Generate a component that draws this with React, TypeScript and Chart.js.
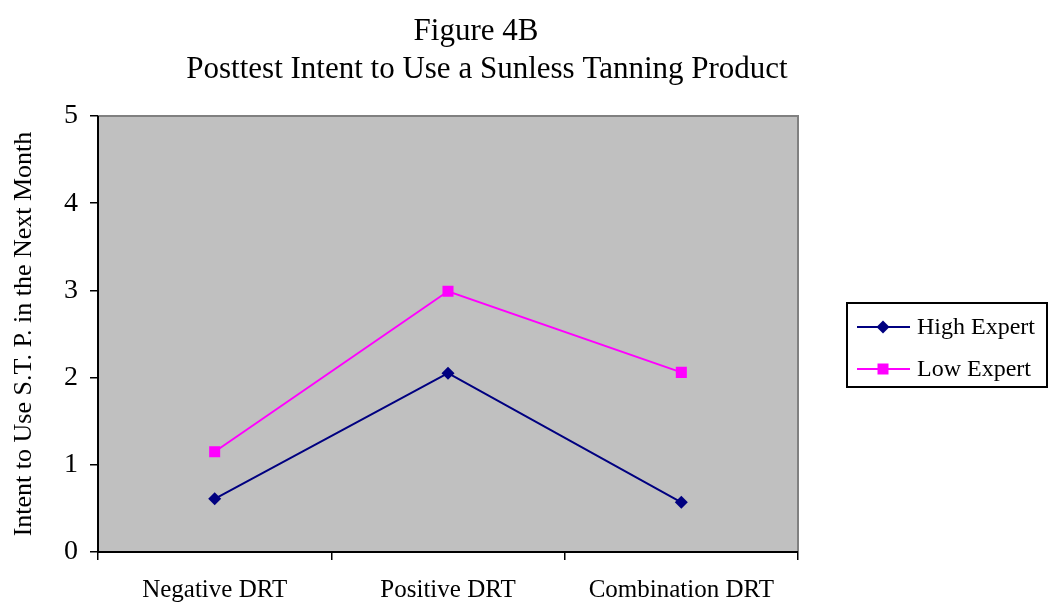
import React, { useEffect, useRef } from "react";
import { Chart, registerables } from "chart.js";

Chart.register(...registerables);

const categories = ["Negative DRT", "Positive DRT", "Combination DRT"];
const highExpert = [0.61, 2.05, 0.57];
const lowExpert = [1.15, 2.99, 2.06];
const seriesNames = ["High Expert", "Low Expert"];
const titleLines = ["Figure 4B", "Posttest Intent to Use a Sunless Tanning Product"];
const yAxisTitle = "Intent to Use S.T. P. in the Next Month";

const FONT = "'Liberation Serif', 'Times New Roman', serif";
const NAVY = "#000080";
const MAGENTA = "#FF00FF";

export default function App() {
  const ref = useRef<HTMLCanvasElement>(null);

  useEffect(() => {
    const canvas = ref.current!;
    const decor = {
      id: "decor",
      beforeDatasetsDraw(chart: any) {
        const { ctx, chartArea: a } = chart;
        ctx.save();
        ctx.fillStyle = "#C0C0C0";
        ctx.fillRect(a.left, a.top, a.right - a.left, a.bottom - a.top);
        ctx.strokeStyle = "#808080";
        ctx.lineWidth = 2;
        ctx.beginPath();
        ctx.moveTo(a.left, a.top);
        ctx.lineTo(a.right, a.top);
        ctx.lineTo(a.right, a.bottom);
        ctx.stroke();
        ctx.strokeStyle = "#000";
        ctx.lineWidth = 2;
        ctx.beginPath();
        ctx.moveTo(a.left, a.top);
        ctx.lineTo(a.left, a.bottom);
        ctx.lineTo(a.right, a.bottom);
        ctx.stroke();
        ctx.restore();
      },
      afterDraw(chart: any) {
        const { ctx } = chart;
        ctx.save();
        // title
        ctx.fillStyle = "#000";
        ctx.textAlign = "center";
        ctx.textBaseline = "middle";
        ctx.font = `31px ${FONT}`;
        ctx.fillText(titleLines[0], 476, 32);
        ctx.fillText(titleLines[1], 487, 70);
        // legend
        const bx = 847, by = 303, bw = 200, bh = 84;
        ctx.fillStyle = "#fff";
        ctx.fillRect(bx, by, bw, bh);
        ctx.strokeStyle = "#000";
        ctx.lineWidth = 2;
        ctx.strokeRect(bx, by, bw, bh);
        const rows = [
          { y: 327, color: NAVY, style: "rectRot" },
          { y: 369, color: MAGENTA, style: "rect" },
        ];
        ctx.font = `24px ${FONT}`;
        ctx.textAlign = "left";
        rows.forEach((row, i) => {
          ctx.strokeStyle = row.color;
          ctx.lineWidth = 2;
          ctx.beginPath();
          ctx.moveTo(857, row.y);
          ctx.lineTo(910, row.y);
          ctx.stroke();
          ctx.fillStyle = row.color;
          ctx.beginPath();
          if (row.style === "rect") {
            const s = 5.5;
            ctx.rect(883 - s, row.y - s, 2 * s, 2 * s);
          } else {
            const s = 6.5;
            ctx.moveTo(883, row.y - s);
            ctx.lineTo(883 + s, row.y);
            ctx.lineTo(883, row.y + s);
            ctx.lineTo(883 - s, row.y);
            ctx.closePath();
          }
          ctx.fill();
          ctx.fillStyle = "#000";
          ctx.fillText(seriesNames[i], 917, row.y + 1);
        });
        ctx.restore();
      },
    };

    const chart = new Chart(canvas, {
      type: "line",
      data: {
        labels: categories,
        datasets: [
          {
            label: seriesNames[0],
            data: highExpert,
            borderColor: NAVY,
            backgroundColor: NAVY,
            borderWidth: 2,
            pointStyle: "rectRot",
            pointRadius: 6.5,
            pointBorderWidth: 0,
            tension: 0,
          },
          {
            label: seriesNames[1],
            data: lowExpert,
            borderColor: MAGENTA,
            backgroundColor: MAGENTA,
            borderWidth: 2,
            pointStyle: "rect",
            pointRadius: 7.8,
            pointBorderWidth: 0,
            tension: 0,
          },
        ],
      },
      options: {
        responsive: false,
        animation: false,
        devicePixelRatio: 1,
        layout: { padding: { top: 116, right: 251, bottom: 0, left: 0 } },
        plugins: {
          legend: { display: false },
          title: { display: false },
          tooltip: { enabled: false },
        },
        scales: {
          x: {
            offset: true,
            grid: {
              offset: true,
              drawOnChartArea: false,
              drawTicks: true,
              tickLength: 8,
              color: "#000",
              lineWidth: 1.5,
            },
            border: { display: false },
            ticks: {
              color: "#000",
              font: { family: FONT, size: 25 },
              padding: 15,
              maxRotation: 0,
            },
            afterFit(scale: any) {
              scale.height = 55;
            },
          },
          y: {
            min: 0,
            max: 5,
            grid: {
              drawOnChartArea: false,
              drawTicks: true,
              tickLength: 8,
              color: "#000",
              lineWidth: 1.5,
            },
            border: { display: false },
            ticks: {
              stepSize: 1,
              color: "#000",
              font: { family: FONT, size: 28 },
              padding: 12,
            },
            title: {
              display: true,
              text: yAxisTitle,
              color: "#000",
              font: { family: FONT, size: 26 },
              padding: { top: 9, bottom: 0 },
            },
            afterFit(scale: any) {
              scale.width = 98;
            },
          },
        },
      },
      plugins: [decor],
    });
    return () => chart.destroy();
  }, []);

  return (
    <div style={{ position: "fixed", left: 0, top: 0, width: 1049, height: 607, background: "#fff" }}>
      <canvas ref={ref} width={1049} height={607} style={{ width: 1049, height: 607, display: "block" }} />
    </div>
  );
}
